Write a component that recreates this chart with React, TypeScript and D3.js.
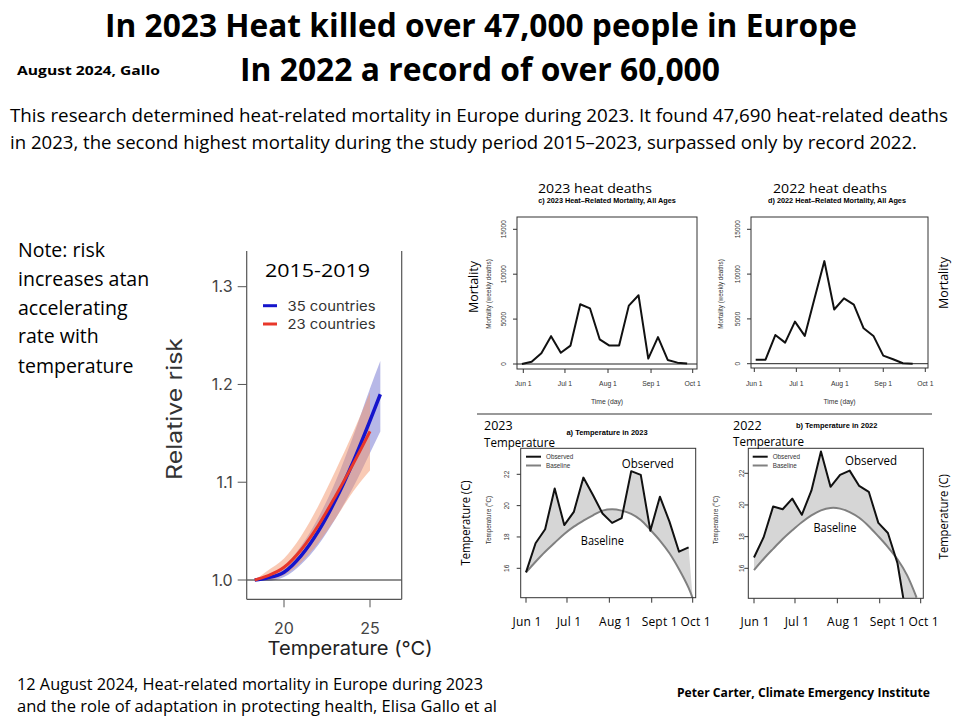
import React from "react";
import * as d3 from "d3";

// ---- values ----

// relative risk curves (left chart)
const riskTemps35 = [18.3, 19, 20, 21, 22, 23, 24, 25, 25.6];
const risk35 = [1.0, 1.002, 1.008, 1.025, 1.05, 1.082, 1.12, 1.163, 1.19];
const risk35Lo = [1.0, 0.999, 1.003, 1.016, 1.036, 1.063, 1.094, 1.13, 1.152];
const risk35Hi = [1.0, 1.005, 1.014, 1.035, 1.064, 1.101, 1.146, 1.196, 1.224];
const riskTemps23 = [18.3, 19, 20, 21, 22, 23, 24, 25];
const risk23 = [1.0, 1.004, 1.013, 1.031, 1.056, 1.086, 1.118, 1.152];
const risk23Lo = [1.0, 1.0, 1.005, 1.018, 1.038, 1.063, 1.09, 1.112];
const risk23Hi = [1.0, 1.009, 1.022, 1.045, 1.076, 1.112, 1.15, 1.192];
const riskTicks = [1.0, 1.1, 1.2, 1.3];
const riskTempTicks = [20, 25];

// weekly heat-related deaths (days counted from Jun 1)
const mortDays2023 = [-1, 6, 13, 20, 27, 34, 41, 48, 55, 62, 69, 76, 83, 90, 97, 104, 111, 118];
const mort2023 = [0, 250, 1200, 3100, 1250, 2050, 6650, 6200, 2750, 2050, 2050, 6500, 7650, 600, 3000, 450, 150, 50];
const mortDays2022 = [1, 8, 15, 22, 29, 36, 43, 50, 57, 64, 71, 78, 85, 92, 99, 106, 113];
const mort2022 = [450, 450, 3200, 2350, 4700, 3100, 7300, 11450, 6050, 7300, 6600, 3950, 3100, 900, 500, 50, 0];
const mortTicks = [0, 5000, 10000, 15000];

// weekly temperature, observed vs baseline (°C)
const tempDays2023 = [0, 7, 14, 21, 28, 35, 42, 49, 56, 63, 70, 77, 84, 91, 98, 105, 112, 119];
const obs2023 = [15.74, 17.6, 18.49, 21.1, 18.76, 19.6, 21.79, 20.68, 19.5, 18.9, 19.2, 22.2, 21.96, 18.4, 20.57, 18.98, 17.06, 17.34];
const baseDays2023 = [0, 7, 14, 21, 28, 35, 42, 49, 56, 63, 70, 77, 84, 91, 98, 105, 112, 119, 122];
const base2023 = [15.74, 16.42, 17.06, 17.63, 18.19, 18.66, 19.04, 19.38, 19.68, 19.77, 19.68, 19.47, 19.08, 18.45, 17.77, 16.96, 15.94, 14.75, 14.08];
const tempDays2022 = [0, 7, 14, 21, 28, 35, 42, 49, 56, 63, 70, 77, 84, 91, 98, 105, 112];
const obs2022 = [16.68, 17.95, 19.9, 19.73, 20.4, 19.38, 20.9, 23.38, 21.15, 21.9, 22.17, 21.2, 20.83, 18.87, 18.23, 16.32, 12.7];
const baseDays2022 = [0, 7, 14, 21, 28, 35, 42, 49, 56, 63, 70, 77, 84, 91, 98, 105, 112, 119];
const base2022 = [15.89, 16.59, 17.23, 17.85, 18.4, 18.91, 19.34, 19.66, 19.81, 19.77, 19.55, 19.19, 18.66, 18.02, 17.34, 16.57, 15.57, 14.15];
const tempTicks = [16, 18, 20, 22];

const monthTickDays = [0, 30, 61, 92, 122];
const mortMonthLabels = ["Jun 1", "Jul 1", "Aug 1", "Sep 1", "Oct 1"];
const tempMonthLabels = ["Jun 1", "Jul 1", "Aug 1", "Sept 1", "Oct 1"];

const FONT_SLIDE = "'Open Sans', 'Noto Sans', sans-serif";
const FONT_R = "'Liberation Sans', Arial, sans-serif";
const FONT_RR = "Inter, 'Noto Sans', sans-serif";

const Rot = ({ x, y, size, children, fill = "#000", family = FONT_R, len }: any) => (
  <text
    transform={`translate(${x},${y}) rotate(-90)`}
    textAnchor="middle"
    fontSize={size}
    fontFamily={family}
    fill={fill}
    textLength={len}
    lengthAdjust={len ? "spacingAndGlyphs" : undefined}
  >
    {children}
  </text>
);

const Header = () => (
  <g fontFamily={FONT_SLIDE}>
    <text x={481} y={37} textAnchor="middle" fontSize={32} fontWeight="bold" textLength={752} lengthAdjust="spacingAndGlyphs">
      In 2023 Heat killed over 47,000 people in Europe
    </text>
    <text x={480} y={81} textAnchor="middle" fontSize={32} fontWeight="bold" textLength={480} lengthAdjust="spacingAndGlyphs">
      In 2022 a record of over 60,000
    </text>
    <text x={17} y={75} fontSize={13} fontWeight="bold" textLength={143} lengthAdjust="spacingAndGlyphs">
      August 2024, Gallo
    </text>
    <text x={10} y={122} fontSize={17.5} textLength={938} lengthAdjust="spacingAndGlyphs">
      This research determined heat-related mortality in Europe during 2023. It found 47,690 heat-related deaths
    </text>
    <text x={10} y={149} fontSize={17.5} textLength={907} lengthAdjust="spacingAndGlyphs">
      in 2023, the second highest mortality during the study period 2015–2023, surpassed only by record 2022.
    </text>
    {["Note: risk", "increases atan", "accelerating", "rate with", "temperature"].map((t, i) => (
      <text key={t} x={18} y={[257, 286, 315, 343, 373][i]} fontSize={19.5}>
        {t}
      </text>
    ))}
    <text x={17} y={690} fontSize={15.5} textLength={466} lengthAdjust="spacingAndGlyphs">
      12 August 2024, Heat-related mortality in Europe during 2023
    </text>
    <text x={17} y={712} fontSize={15.5} textLength={480} lengthAdjust="spacingAndGlyphs">
      and the role of adaptation in protecting health,  Elisa Gallo et al
    </text>
    <text x={677} y={697} fontSize={12} fontWeight="bold" textLength={253} lengthAdjust="spacingAndGlyphs">
      Peter Carter, Climate Emergency Institute
    </text>
  </g>
);

const RiskChart = () => {
  const x = d3.scaleLinear().domain([20, 25]).range([284, 370]);
  const y = d3.scaleLinear().domain([1.0, 1.3]).range([580, 286.7]);
  const band = (temps: number[], lo: number[], hi: number[]) =>
    d3
      .area<number>()
      .x((_, i) => x(temps[i]))
      .y0((_, i) => y(lo[i]))
      .y1((_, i) => y(hi[i]))
      .curve(d3.curveMonotoneX)(lo) as string;
  const line = (temps: number[], vals: number[]) =>
    d3
      .line<number>()
      .x((_, i) => x(temps[i]))
      .y((d) => y(d))
      .curve(d3.curveMonotoneX)(vals) as string;
  const L = 246.7, R = 401.7, T = 251, B = 599.3;
  return (
    <g fontFamily={FONT_RR}>
      <path d={band(riskTemps35, risk35Lo, risk35Hi)} fill="#6f72cf" opacity={0.5} />
      <path d={band(riskTemps23, risk23Lo, risk23Hi)} fill="#f3966c" opacity={0.5} />
      <line x1={L} x2={R} y1={y(1.0)} y2={y(1.0)} stroke="#222" strokeWidth={1.2} />
      <path d={line(riskTemps35, risk35)} fill="none" stroke="#1515cc" strokeWidth={3.5} />
      <path d={line(riskTemps23, risk23)} fill="none" stroke="#e8372a" strokeWidth={3} />
      <line x1={L} x2={L} y1={T} y2={B} stroke="#555" strokeWidth={1.2} />
      <line x1={R} x2={R} y1={T} y2={B} stroke="#555" strokeWidth={1.2} />
      <line x1={L} x2={R} y1={B} y2={B} stroke="#555" strokeWidth={1.2} />
      {riskTicks.map((t) => (
        <g key={t}>
          <line x1={L - 9} x2={L} y1={y(t)} y2={y(t)} stroke="#555" />
          <text x={L - 14} y={y(t)} dy="0.36em" textAnchor="end" fontSize={16} fill="#444">
            {t.toFixed(1)}
          </text>
        </g>
      ))}
      {riskTempTicks.map((t) => (
        <g key={t}>
          <line x1={x(t)} x2={x(t)} y1={B} y2={B + 8} stroke="#555" />
          <text x={x(t)} y={634} textAnchor="middle" fontSize={16} fill="#444">
            {t}
          </text>
        </g>
      ))}
      <text x={350} y={655} textAnchor="middle" fontSize={19} fill="#222" textLength={165} lengthAdjust="spacingAndGlyphs">
        Temperature (°C)
      </text>
      <Rot x={182} y={409} size={21} fill="#333" family={FONT_RR} len={142}>
        Relative risk
      </Rot>
      <text x={265} y={277} fontSize={19} fontFamily={FONT_SLIDE} textLength={105} lengthAdjust="spacingAndGlyphs">
        2015-2019
      </text>
      <line x1={263} x2={277} y1={305.7} y2={305.7} stroke="#1515cc" strokeWidth={3} />
      <text x={287.5} y={310.5} fontSize={13.5} fill="#333" textLength={88} lengthAdjust="spacingAndGlyphs">
        35 countries
      </text>
      <line x1={263} x2={277} y1={324} y2={324} stroke="#e8372a" strokeWidth={3} />
      <text x={287.5} y={329} fontSize={13.5} fill="#333" textLength={88} lengthAdjust="spacingAndGlyphs">
        23 countries
      </text>
    </g>
  );
};

type MortCfg = {
  box: { l: number; r: number; t: number; b: number };
  xr: [number, number];
  yr: [number, number];
  headline: string;
  headX: number;
  title: string;
  titleX: number;
  yLabX: number;
  big: { x: number; y: number };
  yTickX: number;
};

const MortalityPanel = ({ cfg, days, values }: { cfg: MortCfg; days: number[]; values: number[] }) => {
  const x = d3.scaleLinear().domain([0, 122]).range(cfg.xr);
  const y = d3.scaleLinear().domain([0, 15000]).range(cfg.yr);
  const { l, r, t, b } = cfg.box;
  const path = d3
    .line<number>()
    .x((_, i) => x(days[i]))
    .y((d) => y(d))(values) as string;
  return (
    <g fontFamily={FONT_R}>
      <text x={cfg.headX} y={193} textAnchor="middle" fontSize={13} fontFamily={FONT_SLIDE} textLength={114} lengthAdjust="spacingAndGlyphs">
        {cfg.headline}
      </text>
      <text x={cfg.titleX} y={202.5} textAnchor="middle" fontSize={7.3} fontWeight="bold">
        {cfg.title}
      </text>
      <line x1={l} x2={r} y1={y(0)} y2={y(0)} stroke="#222" strokeWidth={1} />
      <path d={path} fill="none" stroke="#111" strokeWidth={2} strokeLinejoin="round" />
      <rect x={l} y={t} width={r - l} height={b - t} fill="none" stroke="#333" strokeWidth={1} />
      {mortTicks.map((v) => (
        <g key={v}>
          <line x1={l - 4} x2={l} y1={y(v)} y2={y(v)} stroke="#333" />
          <Rot x={cfg.yTickX + 2.5} y={y(v)} size={6.5} fill="#333">
            {v}
          </Rot>
        </g>
      ))}
      {monthTickDays.map((d, i) => (
        <g key={d}>
          <line x1={x(d)} x2={x(d)} y1={b} y2={b + 4} stroke="#333" />
          <text x={x(d)} y={385.5} textAnchor="middle" fontSize={6.8} fill="#333">
            {mortMonthLabels[i]}
          </text>
        </g>
      ))}
      <text x={(l + r) / 2} y={403.5} textAnchor="middle" fontSize={6.8} fill="#333">
        Time (day)
      </text>
      <Rot x={cfg.yLabX + 2.5} y={294} size={6.3} fill="#333">
        Mortality (weekly deaths)
      </Rot>
      <Rot x={cfg.big.x + 5} y={cfg.big.y} size={13.5} family={FONT_SLIDE} len={52}>
        Mortality
      </Rot>
    </g>
  );
};

type TempCfg = {
  id: string;
  box: { l: number; r: number; t: number; b: number };
  xr: [number, number];
  yr: [number, number];
  title: string;
  titleX: number;
  titleY: number;
  year: string;
  yearX: number;
  yearY: number;
  legX: number;
  obsLab: [number, number];
  baseLab: [number, number];
  big: { x: number; y: number };
  yLabX: number;
  yTickX: number;
};

const labelShift = [1, 2, 6, 8, 3];

const TempPanel = ({
  cfg,
  obsDays,
  obs,
  baseDays,
  base,
}: {
  cfg: TempCfg;
  obsDays: number[];
  obs: number[];
  baseDays: number[];
  base: number[];
}) => {
  const x = d3.scaleLinear().domain([0, 122]).range(cfg.xr);
  const y = d3.scaleLinear().domain([16, 22]).range(cfg.yr);
  const { l, r, t, b } = cfg.box;
  const obsPts: [number, number][] = obs.map((v, i) => [x(obsDays[i]), y(v)]);
  const basePts: [number, number][] = base.map((v, i) => [x(baseDays[i]), y(v)]);
  const straight = d3.line();
  const smooth = d3.line().curve(d3.curveCatmullRom);
  const fill = (straight(obsPts) as string) + (smooth(basePts.slice().reverse()) as string).replace(/^M/, "L") + "Z";
  return (
    <g fontFamily={FONT_R}>
      <defs>
        <clipPath id={cfg.id}>
          <rect x={l} y={t} width={r - l} height={b - t} />
        </clipPath>
      </defs>
      <g clipPath={`url(#${cfg.id})`}>
        <path d={fill} fill="#d6d6d6" />
        <path d={smooth(basePts) as string} fill="none" stroke="#808080" strokeWidth={2} />
        <path d={straight(obsPts) as string} fill="none" stroke="#111" strokeWidth={2} strokeLinejoin="round" />
      </g>
      <rect x={l} y={t} width={r - l} height={b - t} fill="none" stroke="#333" strokeWidth={1} />
      <text x={cfg.titleX} y={cfg.titleY} textAnchor="middle" fontSize={7.5} fontWeight="bold">
        {cfg.title}
      </text>
      {tempTicks.map((v) => (
        <g key={v}>
          <line x1={l - 4} x2={l} y1={y(v)} y2={y(v)} stroke="#333" />
          <Rot x={cfg.yTickX + 2.5} y={y(v)} size={6.5} fill="#333">
            {v}
          </Rot>
        </g>
      ))}
      {monthTickDays.map((d, i) => (
        <g key={d}>
          <line x1={x(d)} x2={x(d)} y1={b} y2={b + 5} stroke="#333" />
          <text x={x(d) + labelShift[i]} y={626} textAnchor="middle" fontSize={12} fontFamily={FONT_SLIDE} letterSpacing={0.2}>
            {tempMonthLabels[i]}
          </text>
        </g>
      ))}
      <line x1={cfg.legX} x2={cfg.legX + 15} y1={456.7} y2={456.7} stroke="#111" strokeWidth={2} />
      <text x={cfg.legX + 20} y={459} fontSize={6.3} fill="#333">
        Observed
      </text>
      <line x1={cfg.legX} x2={cfg.legX + 15} y1={465.5} y2={465.5} stroke="#808080" strokeWidth={2} />
      <text x={cfg.legX + 20} y={467.8} fontSize={6.3} fill="#333">
        Baseline
      </text>
      <g fontFamily={FONT_SLIDE}>
        <text x={cfg.yearX} y={cfg.yearY} fontSize={12.5}>
          {cfg.year}
        </text>
        <text x={cfg.yearX} y={cfg.yearY + 16.5} fontSize={12.5} textLength={71} lengthAdjust="spacingAndGlyphs">
          Temperature
        </text>
        <text x={cfg.obsLab[0]} y={cfg.obsLab[1]} textAnchor="middle" fontSize={13} textLength={52} lengthAdjust="spacingAndGlyphs">
          Observed
        </text>
        <text x={cfg.baseLab[0]} y={cfg.baseLab[1]} textAnchor="middle" fontSize={12} textLength={43} lengthAdjust="spacingAndGlyphs">
          Baseline
        </text>
      </g>
      <Rot x={cfg.big.x + 5} y={cfg.big.y} size={13.5} family={FONT_SLIDE} len={85}>
        Temperature (C)
      </Rot>
      <Rot x={cfg.yLabX + 2.5} y={520} size={6.3} fill="#333">
        Temperature (°C)
      </Rot>
    </g>
  );
};

const mortCfg2023: MortCfg = {
  box: { l: 517, r: 697, t: 217, b: 369 },
  xr: [523.3, 692.7],
  yr: [364, 229.3],
  headline: "2023 heat deaths",
  headX: 595,
  title: "c) 2023 Heat\u2013Related Mortality, All Ages",
  titleX: 607,
  yLabX: 488,
  big: { x: 473, y: 287 },
  yTickX: 503,
};

const mortCfg2022: MortCfg = {
  box: { l: 751, r: 928, t: 217, b: 368 },
  xr: [754.3, 925.3],
  yr: [363.7, 229.3],
  headline: "2022 heat deaths",
  headX: 830,
  title: "d) 2022 Heat\u2013Related Mortality, All Ages",
  titleX: 837,
  yLabX: 720,
  big: { x: 943, y: 283 },
  yTickX: 737,
};

const tempCfg2023: TempCfg = {
  id: "clipA",
  box: { l: 520.7, r: 695.7, t: 448.3, b: 597.7 },
  xr: [526, 692.7],
  yr: [568.3, 474.3],
  title: "a) Temperature in 2023",
  titleX: 607,
  titleY: 434.5,
  year: "2023",
  yearX: 484,
  yearY: 430,
  legX: 526,
  obsLab: [647.7, 468],
  baseLab: [602.3, 545],
  big: { x: 465, y: 523 },
  yLabX: 488.3,
  yTickX: 506.7,
};

const tempCfg2022: TempCfg = {
  id: "clipB",
  box: { l: 748.3, r: 923.3, t: 448.3, b: 598.3 },
  xr: [754, 920.7],
  yr: [568.3, 473.3],
  title: "b) Temperature in 2022",
  titleX: 836.7,
  titleY: 428,
  year: "2022",
  yearX: 733,
  yearY: 429.5,
  legX: 752.7,
  obsLab: [871, 465],
  baseLab: [835, 532],
  big: { x: 943.3, y: 516.7 },
  yLabX: 715,
  yTickX: 741.7,
};

export default function App() {
  return (
    <div style={{ position: "absolute", left: 0, top: 0 }}>
      <svg width={960} height={720} style={{ display: "block", background: "#fff" }}>
        <rect width={960} height={720} fill="#fff" />
        <Header />
        <RiskChart />
        <MortalityPanel cfg={mortCfg2023} days={mortDays2023} values={mort2023} />
        <MortalityPanel cfg={mortCfg2022} days={mortDays2022} values={mort2022} />
        <line x1={477} x2={932} y1={414} y2={414} stroke="#777" strokeWidth={1.5} />
        <TempPanel cfg={tempCfg2023} obsDays={tempDays2023} obs={obs2023} baseDays={baseDays2023} base={base2023} />
        <TempPanel cfg={tempCfg2022} obsDays={tempDays2022} obs={obs2022} baseDays={baseDays2022} base={base2022} />
      </svg>
    </div>
  );
}
